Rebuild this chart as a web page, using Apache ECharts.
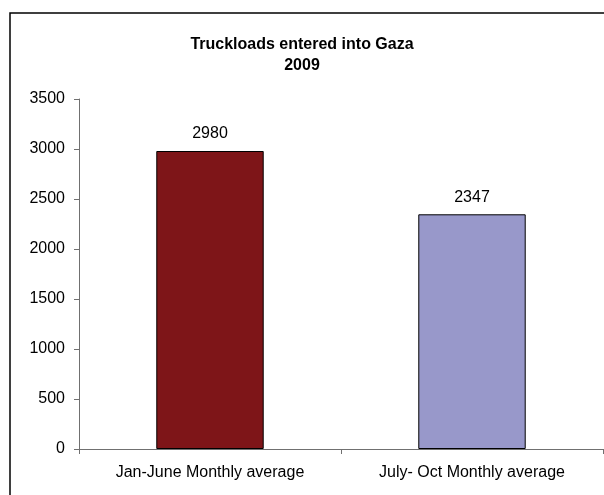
<!DOCTYPE html>
<html>
<head>
<meta charset="utf-8">
<script src="https://cdn.jsdelivr.net/npm/echarts@6/dist/echarts.min.js"></script>
<style>
html, body { margin: 0; padding: 0; background: #fff; }
#chart { width: 604px; height: 495px; }
</style>
</head>
<body>
<div id="chart"></div>
<script>
const categories = ['Jan-June Monthly average', 'July- Oct Monthly average'];
const truckloads = [2980, 2347];
const barColors = ['#7E1518', '#9898CA'];

const chart = echarts.init(document.getElementById('chart'));

const option = {
  animation: false,
  backgroundColor: '#fff',
  textStyle: { fontFamily: 'Liberation Sans, Arial, sans-serif' },
  graphic: [
    {
      type: 'rect',
      shape: { x: 10, y: 13, width: 640, height: 540 },
      style: { fill: 'none', stroke: '#000', lineWidth: 1.5 },
      silent: true
    }
  ],
  title: {
    text: 'Truckloads entered into Gaza\n2009',
    left: 'center',
    top: 29,
    textStyle: {
      fontSize: 16,
      fontWeight: 'bold',
      color: '#000',
      lineHeight: 21,
      fontFamily: 'Liberation Sans, Arial, sans-serif'
    }
  },
  grid: { left: 79, right: 1, top: 99, bottom: 46 },
  xAxis: {
    type: 'category',
    data: categories,
    axisLine: { lineStyle: { color: '#707070', width: 1 } },
    axisTick: { show: true, length: 5, lineStyle: { color: '#707070' } },
    axisLabel: { color: '#000', fontSize: 16, margin: 16 }
  },
  yAxis: {
    type: 'value',
    min: 0,
    max: 3500,
    interval: 500,
    axisLine: { show: true, lineStyle: { color: '#707070', width: 1 } },
    axisTick: { show: true, length: 5, lineStyle: { color: '#707070' } },
    splitLine: { show: false },
    axisLabel: { color: '#000', fontSize: 16, margin: 14, formatter: v => String(v) }
  },
  series: [
    {
      type: 'bar',
      data: truckloads.map((v, i) => ({ value: v, itemStyle: { color: barColors[i] } })),
      barWidth: '41%',
      itemStyle: { borderColor: '#000', borderWidth: 1 },
      label: {
        show: true,
        position: 'top',
        distance: 9,
        color: '#000',
        fontSize: 16
      }
    }
  ]
};

chart.setOption(option);
</script>
</body>
</html>
